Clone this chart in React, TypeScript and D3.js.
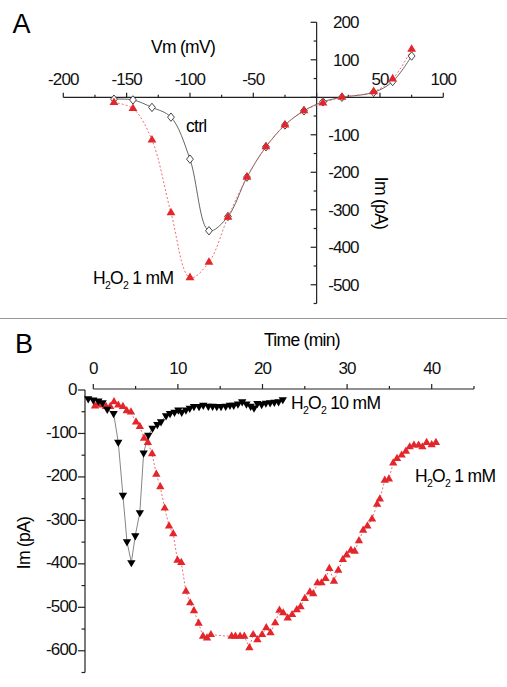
import React from "react";
import * as d3 from "d3";

// Panel A: I-V relation
const vmValues = [-160, -145, -130, -115, -100, -85, -70, -55, -40, -25, -10, 5, 20, 45, 60, 75];
const ctrlIm = [-5, -7, -27, -53, -165, -356, -318, -213, -132, -74, -36, -12, 0, 13, 42, 110];
const h2o2Im = [-14, -30, -114, -308, -481, -440, -320, -213, -132, -74, -36, -15, 0, 15, 49, 128];
const aXTicks = [-200, -150, -100, -50, 50, 100];
const aYTicks = [200, 100, -100, -200, -300, -400, -500];

// Panel B: time course
const t10 = [-0.6, 0, 0.6, 1.1, 1.65, 2.4, 2.95, 3.5, 3.98, 4.5, 4.96, 5.5, 5.95, 6.5, 7.0, 7.57, 8.0, 8.6, 9.07, 9.6, 10.05, 10.45, 10.95, 11.4, 11.9, 12.5, 13.0, 13.6, 14.1, 14.6, 15.1, 15.65, 16.15, 16.6, 17.1, 17.6, 18.1, 18.6, 19.0, 19.4, 19.9, 20.4, 20.9, 21.4, 21.9, 22.4];
const im10 = [-20, -23, -25, -29, -44, -54, -120, -242, -349, -397, -335, -282, -145, -104, -88, -79, -73, -59, -54, -51, -46, -51, -46, -42, -38, -38, -35, -37, -37, -38, -38, -37, -35, -35, -32, -27, -32, -37, -41, -31, -33, -30, -29, -28, -27, -22];
const t1 = [0.2, 0.6, 1.0, 1.5, 2.0, 2.45, 2.95, 3.5, 3.95, 4.45, 5.05, 5.5, 6.0, 6.45, 6.95, 7.45, 7.92, 8.44, 8.95, 9.45, 9.95, 10.4, 10.95, 11.45, 11.9, 12.45, 12.97, 13.44, 13.9, 16.35, 16.8, 17.35, 17.85, 18.45, 18.9, 19.4, 19.95, 20.45, 20.95, 21.5, 22.0, 22.45, 22.98, 23.5, 24.05, 24.5, 25.0, 25.6, 26.0, 26.5, 26.97, 27.45, 27.9, 28.45, 28.96, 29.5, 29.95, 30.45, 30.9, 31.4, 31.9, 32.4, 32.95, 33.55, 33.87, 34.45, 34.94, 35.45, 35.9, 36.45, 36.95, 37.4, 37.9, 38.45, 38.9, 39.4, 40.0, 40.5];
const im1 = [-37, -31, -35, -38, -38, -27, -35, -38, -48, -51, -74, -84, -111, -121, -147, -194, -223, -272, -313, -331, -392, -397, -463, -490, -508, -537, -567, -571, -563, -567, -567, -567, -567, -593, -563, -575, -563, -547, -559, -536, -507, -513, -525, -517, -506, -499, -480, -465, -469, -444, -444, -434, -411, -440, -415, -390, -380, -369, -371, -347, -323, -313, -297, -263, -251, -208, -205, -168, -158, -150, -141, -131, -127, -127, -131, -121, -126, -121];
const bXTicks = [0, 10, 20, 30, 40];
const bYTicks = [0, -100, -200, -300, -400, -500, -600];

const FONT = "'Liberation Sans', Arial, sans-serif";
const RED = "#e3262c";
const TICK_FS = 17;
const TICK_LS = -0.9;
const TITLE_FS = 17.5;
const TITLE_LS = -0.7;

const Sub = ({ children }: { children: React.ReactNode }) => (
  <tspan fontSize={10.5} dy={4.5}>{children}</tspan>
);

const H2O2 = ({ x, y, rest }: { x: number; y: number; rest: string }) => (
  <text x={x} y={y} fontSize={TITLE_FS} letterSpacing={TITLE_LS}>
    H<Sub>2</Sub>
    <tspan dy={-4.5}>O</tspan>
    <Sub>2</Sub>
    <tspan dy={-4.5}>{rest}</tspan>
  </text>
);

export default function App() {
  // Panel A scales
  const xA = d3.scaleLinear().domain([-200, 100]).range([63.3, 443.3]);
  const yA = d3.scaleLinear().domain([-550, 200]).range([303.5, 22.3]);
  // Panel B scales
  const xB = d3.scaleLinear().domain([0, 45]).range([93.3, 474]);
  const yB = d3.scaleLinear().domain([-650, 0]).range([672.5, 390]);

  const ctrlPts = vmValues.map((v, i) => [xA(v), yA(ctrlIm[i])] as [number, number]);
  const redPts = vmValues.map((v, i) => [xA(v), yA(h2o2Im[i])] as [number, number]);
  const splineA = d3.line().curve(d3.curveCatmullRom.alpha(0.5));

  const b10 = t10.map((t, i) => [xB(t), yB(im10[i])] as [number, number]);
  const b1 = t1.map((t, i) => [xB(t), yB(im1[i])] as [number, number]);
  const straight = d3.line();

  const triUp = d3.symbol().type(d3.symbolTriangle).size(34)()!;
  const triUpB = d3.symbol().type(d3.symbolTriangle).size(30)()!;
  const diamond = "M0,-4.2L3.4,0L0,4.2L-3.4,0Z";

  const ax0 = yA(0);
  const ay0 = xA(0);
  const aMinorX = d3.range(-200, 101, 25);
  const aMinorY = d3.range(-550, 201, 50);
  const bMinorX = d3.range(0, 46, 5);
  const bMinorY = d3.range(-650, 1, 50);
  const byAxis = xB.range()[0] - 8.3;
  const bxAxis = yB(0) - 1;

  return (
    <svg
      width={507}
      height={687}
      style={{ position: "absolute", left: 0, top: 0, background: "#fff" }}
      fontFamily={FONT}
    >
      <rect width={507} height={687} fill="#fff" />
      {/* Panel letters */}
      <text x={12.5} y={33} fontSize={27}>A</text>
      <text x={15} y={353} fontSize={27}>B</text>

      {/* ===== Panel A ===== */}
      <g stroke="#222" strokeWidth={1.2} fill="none">
        <line x1={xA(-200)} x2={xA(100)} y1={ax0} y2={ax0} />
        {aMinorX.map((v) => (
          <line key={"ax" + v} x1={xA(v)} x2={xA(v)} y1={ax0} y2={ax0 - (v % 50 === 0 ? 4.5 : 2.5)} />
        ))}
        <line x1={ay0} x2={ay0} y1={yA(200)} y2={yA(-550)} />
        {aMinorY.map((v) => (
          <line key={"ay" + v} x1={ay0} x2={ay0 - (v % 100 === 0 ? 6 : 3)} y1={yA(v)} y2={yA(v)} />
        ))}
      </g>
      <g fontSize={TICK_FS} letterSpacing={TICK_LS} fill="#111">
        {aXTicks.map((v) => (
          <text key={"axl" + v} x={xA(v)} y={ax0 - 12.5} textAnchor="middle">{v}</text>
        ))}
        {aYTicks.map((v) => (
          <text key={"ayl" + v} x={ay0 + 42} y={yA(v) + 6} textAnchor="end">{v}</text>
        ))}
      </g>
      <text x={183} y={53} fontSize={TITLE_FS} letterSpacing={TITLE_LS} textAnchor="middle">Vm (mV)</text>
      <text
        transform={`translate(375,203) rotate(90)`}
        fontSize={TITLE_FS}
        letterSpacing={TITLE_LS}
        textAnchor="middle"
      >
        Im (pA)
      </text>
      <path d={splineA(ctrlPts)!} fill="none" stroke="#666" strokeWidth={1} />
      <path d={splineA(redPts)!} fill="none" stroke="#f07070" strokeWidth={1} strokeDasharray="2,2" />
      {ctrlPts.map(([x, y], i) => (
        <path key={"cd" + i} d={diamond} transform={`translate(${x},${y})`} fill="#fff" stroke="#333" strokeWidth={0.9} />
      ))}
      {redPts.map(([x, y], i) => (
        <path key={"rt" + i} d={triUp} transform={`translate(${x},${y})`} fill={RED} />
      ))}
      <text x={186} y={132} fontSize={TITLE_FS} letterSpacing={TITLE_LS}>ctrl</text>
      <H2O2 x={93} y={284} rest=" 1 mM" />

      {/* separator */}
      <line x1={0} x2={507} y1={318.5} y2={318.5} stroke="#999" strokeWidth={1} />

      {/* ===== Panel B ===== */}
      <g stroke="#222" strokeWidth={1.2} fill="none">
        <line x1={xB(0)} x2={xB(45)} y1={bxAxis} y2={bxAxis} />
        {bMinorX.map((v) => (
          <line key={"bx" + v} x1={xB(v)} x2={xB(v)} y1={bxAxis} y2={bxAxis - (v % 10 === 0 ? 5 : 3)} />
        ))}
        <line x1={byAxis} x2={byAxis} y1={yB(0)} y2={yB(-650)} />
        {bMinorY.map((v) => (
          <line key={"by" + v} x1={byAxis} x2={byAxis - (v % 100 === 0 ? 7 : 3.5)} y1={yB(v)} y2={yB(v)} />
        ))}
      </g>
      <g fontSize={TICK_FS} letterSpacing={TICK_LS} fill="#111">
        {bXTicks.map((v) => (
          <text key={"bxl" + v} x={xB(v)} y={374} textAnchor="middle">{v}</text>
        ))}
        {bYTicks.map((v) => (
          <text key={"byl" + v} x={byAxis - 8.5} y={yB(v) + 4.5} textAnchor="end">{v}</text>
        ))}
      </g>
      <text x={302} y={346} fontSize={TITLE_FS} letterSpacing={TITLE_LS} textAnchor="middle">Time (min)</text>
      <text
        transform={`translate(30,543) rotate(-90)`}
        fontSize={TITLE_FS}
        letterSpacing={TITLE_LS}
        textAnchor="middle"
      >
        Im (pA)
      </text>
      <path d={straight(b1)!} fill="none" stroke="#f07070" strokeWidth={1} strokeDasharray="2,2" />
      <path d={straight(b10)!} fill="none" stroke="#777" strokeWidth={0.9} />
      {b1.map(([x, y], i) => (
        <path key={"b1" + i} d={triUpB} transform={`translate(${x},${y})`} fill={RED} />
      ))}
      {b10.map(([x, y], i) => (
        <path key={"b10" + i} d={triUpB} transform={`translate(${x},${y}) rotate(180)`} fill="#000" />
      ))}
      <H2O2 x={291} y={409} rest=" 10 mM" />
      <H2O2 x={415} y={482} rest=" 1 mM" />
    </svg>
  );
}
